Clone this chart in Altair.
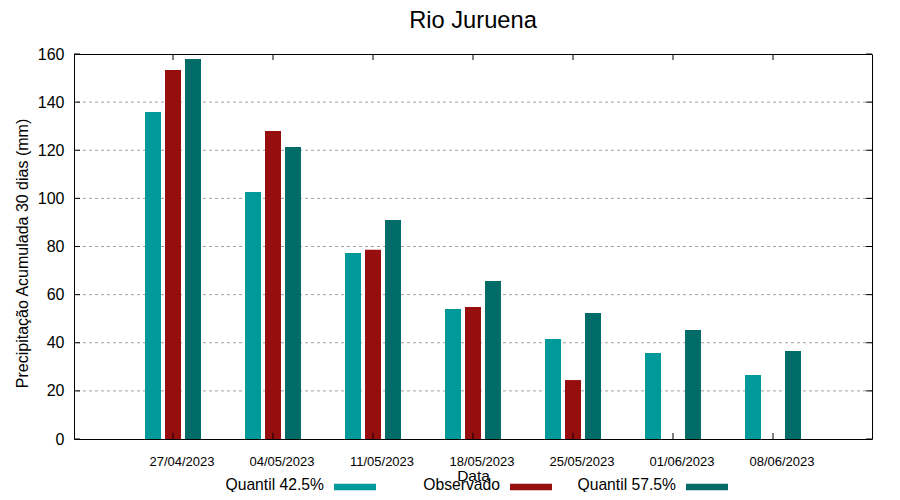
import altair as alt
import pandas as pd

datas = ["27/04/2023", "04/05/2023", "11/05/2023", "18/05/2023",
         "25/05/2023", "01/06/2023", "08/06/2023"]
series = ["Quantil 42.5%", "Observado", "Quantil 57.5%"]
colors = ["#009a9a", "#970e0f", "#006b67"]
q425 = [135.9, 102.7, 77.3, 54.0, 41.6, 35.7, 26.6]
obs = [153.4, 128.0, 78.6, 54.9, 24.5, None, None]
q575 = [157.9, 121.4, 91.0, 65.7, 52.4, 45.3, 36.6]
yticks = [0, 20, 40, 60, 80, 100, 120, 140, 160]
gridvals = [20, 40, 60, 80, 100, 120, 140]

FONT = "Liberation Sans"
W, H = 798, 385

rows = []
for s, vals in zip(series, [q425, obs, q575]):
    for d, v in zip(datas, vals):
        if v is not None:
            rows.append({"Data": d, "Serie": s, "Valor": v})
df = pd.DataFrame(rows)
df_ticks = pd.DataFrame({"v": yticks})
df_grid = pd.DataFrame({"v": gridvals})
df_dates = pd.DataFrame({"Data": datas})
df_leg = pd.DataFrame({"k": list(range(len(series))), "Serie": series})

xscale = alt.Scale(domain=datas, paddingInner=0.04, paddingOuter=0.51)
yscale = alt.Scale(domain=[0, 160], nice=False)
cscale = alt.Scale(domain=series, range=colors)

bars = alt.Chart(df).mark_bar().encode(
    x=alt.X("Data:N", scale=xscale, sort=datas,
            axis=alt.Axis(title="Data", labelAngle=0, labelFontSize=13, labelFont=FONT,
                          labelColor="black", ticks=False, domain=False, grid=False,
                          labelPadding=26, labelBaseline="alphabetic", labelOffset=9,
                          titleFont=FONT, titleFontSize=15.5, titleFontWeight="normal",
                          titleColor="black", titleY=41, titleBaseline="alphabetic")),
    xOffset=alt.XOffset("Serie:N", scale=alt.Scale(domain=series, paddingInner=0.2, paddingOuter=1)),
    y=alt.Y("Valor:Q", scale=yscale,
            axis=alt.Axis(title="Precipitação Acumulada 30 dias (mm)", values=yticks,
                          labelFontSize=16, labelFont=FONT, labelColor="black",
                          ticks=False, domain=False, grid=False, labelPadding=10,
                          titleFont=FONT, titleFontSize=16, titleFontWeight="normal",
                          titleColor="black", titleAngle=270, titleX=-47, titleY=199,
                          titleAlign="center", titleBaseline="alphabetic")),
    color=alt.Color("Serie:N", scale=cscale, legend=None),
)

grid = alt.Chart(df_grid).mark_rule(color="#a0a0a0", strokeDash=[3, 3], strokeWidth=1).encode(
    y=alt.Y("v:Q", scale=yscale)
)

ytick_l = alt.Chart(df_ticks).mark_rule(color="black").encode(
    y=alt.Y("v:Q", scale=yscale), x=alt.value(0), x2=alt.value(6)
)
ytick_r = alt.Chart(df_ticks).mark_rule(color="black").encode(
    y=alt.Y("v:Q", scale=yscale), x=alt.value(W - 6), x2=alt.value(W)
)
xtick_b = alt.Chart(df_dates).mark_rule(color="black").encode(
    x=alt.X("Data:N", scale=xscale, sort=datas, bandPosition=0.5, axis=None),
    y=alt.value(H - 6), y2=alt.value(H)
)
xtick_t = alt.Chart(df_dates).mark_rule(color="black").encode(
    x=alt.X("Data:N", scale=xscale, sort=datas, bandPosition=0.5, axis=None),
    y=alt.value(0), y2=alt.value(6)
)

legscale = alt.Scale(domain=[0, 2], range=[250, 602], nice=False, zero=False)
leg_text = alt.Chart(df_leg).mark_text(align="right", baseline="alphabetic", fontSize=15.7,
                                       font=FONT, color="black").encode(
    x=alt.X("k:Q", scale=legscale, axis=None),
    y=alt.value(436),
    text="Serie:N",
)
leg_sw = alt.Chart(df_leg).mark_point(shape="M-1,-0.155H1V0.155H-1Z", size=1764, filled=True,
                                      opacity=1, strokeWidth=0, xOffset=31).encode(
    x=alt.X("k:Q", scale=legscale, axis=None),
    y=alt.value(433),
    color=alt.Color("Serie:N", scale=cscale, legend=None),
)

chart = alt.layer(grid, bars, ytick_l, ytick_r, xtick_b, xtick_t, leg_text, leg_sw).resolve_scale(
    x="independent"
).properties(
    width=W, height=H,
    autosize=alt.AutoSizeParams(type="none"),
    padding={"left": 66, "top": 46, "right": 18, "bottom": 53},
    background="white",
    title=alt.TitleParams("Rio Juruena", fontSize=23.7, font=FONT, fontWeight="normal",
                          color="black", anchor="middle", offset=13),
).configure_view(stroke="black", strokeWidth=1)

chart.save("out.html", embed_options={"renderer": "svg", "actions": False})
